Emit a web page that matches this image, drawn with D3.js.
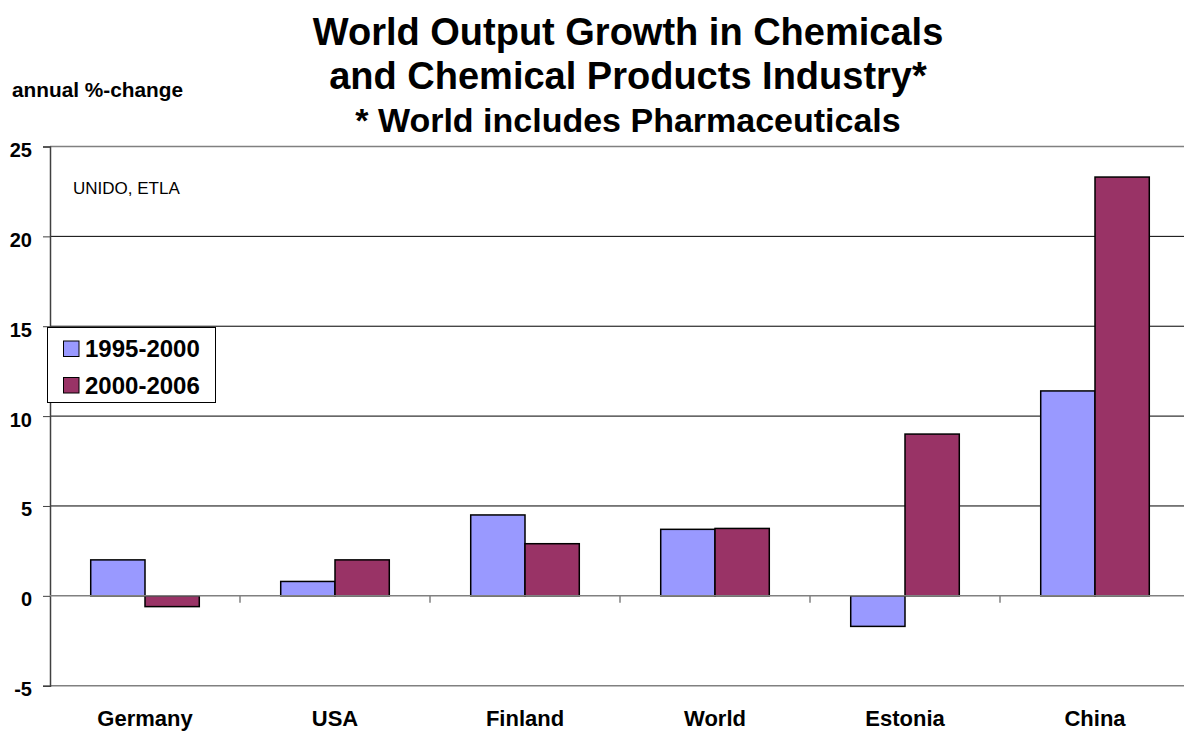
<!DOCTYPE html>
<html><head><meta charset="utf-8">
<script src="https://cdn.jsdelivr.net/npm/d3@7"></script>
<style>body{margin:0;background:#fff}svg{display:block;font-family:"Liberation Sans",Arial,sans-serif}</style>
</head><body><svg id="c" width="1184" height="731"></svg>
<script>
const categories = ["Germany","USA","Finland","World","Estonia","China"];
const seriesNames = ["1995-2000","2000-2006"];
const s1995_2000 = [2.0, 0.8, 4.5, 3.7, -1.7, 11.4];
const s2000_2006 = [-0.6, 2.0, 2.9, 3.75, 9.0, 23.3];
const yTicks = [-5,0,5,10,15,20,25];
const colors = ["#9999FF","#993366"];
const titleLines = ["World Output Growth in Chemicals","and Chemical Products Industry*","* World includes Pharmaceuticals"];

const FF = "'Liberation Sans',Arial,sans-serif";
const svg = d3.select("#c");
const L=50, R=1190, T=146.5, B=685.7;
const x = d3.scaleBand().domain(categories).range([L,R]).paddingInner(0).paddingOuter(0);
const y = d3.scaleLinear().domain([-5,25]).range([B,T]);
const gap = 0.75;
const groupW = x.bandwidth()/(1+gap);
const x1 = d3.scaleBand().domain(seriesNames).range([0,groupW]);

// gridlines
svg.append("g").selectAll("line").data(yTicks.filter(d=>d!==0&&d!==-5&&d!==25)).join("line")
  .attr("x1",L).attr("x2",R).attr("y1",d=>y(d)).attr("y2",d=>y(d)).attr("stroke","#000").attr("stroke-width",1);
svg.append("line").attr("x1",L).attr("x2",R).attr("y1",y(25)).attr("y2",y(25)).attr("stroke","#808080").attr("stroke-width",1.5);
svg.append("line").attr("x1",L).attr("x2",R).attr("y1",y(-5)).attr("y2",y(-5)).attr("stroke","#808080").attr("stroke-width",1.5);

// y axis
const ya = d3.axisLeft(y).tickValues(yTicks).tickSize(7).tickPadding(8).tickFormat(d=>String(d));
const gy = svg.append("g").attr("transform",`translate(${L},0)`).call(ya);
gy.select(".domain").attr("stroke","#404040").attr("stroke-width",1.5);
gy.selectAll(".tick line").attr("stroke","#404040");
gy.selectAll(".tick text").attr("font-size",20).attr("font-weight","bold").attr("fill","#000")
  .attr("font-family",FF).attr("x",-18).attr("dy","0.5em");

// bars
const data = [s1995_2000, s2000_2006];
categories.forEach((c,i)=>{
  const gx = x(c) + (x.bandwidth()-groupW)/2;
  seriesNames.forEach((s,j)=>{
    const v = data[j][i];
    svg.append("rect").attr("x",gx+x1(s)).attr("width",x1.bandwidth())
      .attr("y",y(Math.max(0,v))).attr("height",Math.abs(y(v)-y(0)))
      .attr("fill",colors[j]).attr("stroke","#000").attr("stroke-width",1.5);
  });
});

// zero axis
svg.append("line").attr("x1",L).attr("x2",R).attr("y1",y(0)).attr("y2",y(0)).attr("stroke","#808080").attr("stroke-width",1.5);
svg.append("g").selectAll("line").data(categories.slice(1)).join("line")
  .attr("x1",d=>x(d)).attr("x2",d=>x(d)).attr("y1",y(0)).attr("y2",y(0)+7).attr("stroke","#808080").attr("stroke-width",1.5);

// category labels
const gx = svg.append("g").attr("transform",`translate(0,${B})`).call(d3.axisBottom(x).tickSize(0).tickPadding(0));
gx.select(".domain").remove();
gx.selectAll(".tick text").attr("font-size",22).attr("font-weight","bold").attr("fill","#000")
  .attr("font-family",FF).attr("dy",0).attr("y",40);

// title
svg.append("g").selectAll("text").data(titleLines).join("text")
  .attr("x",628).attr("y",(d,i)=>[45,89,132][i]).attr("text-anchor","middle")
  .attr("font-size",(d,i)=>i<2?38:34).attr("font-weight","bold").text(d=>d);

svg.append("text").attr("x",12).attr("y",97).attr("font-size",20.8).attr("font-weight","bold").text("annual %-change");
svg.append("text").attr("x",73).attr("y",194).attr("font-size",17).text("UNIDO, ETLA");

// legend
const lg = svg.append("g");
lg.append("rect").attr("x",47.5).attr("y",327.5).attr("width",168).attr("height",75).attr("fill","#fff").attr("stroke","#000").attr("stroke-width",1);
seriesNames.forEach((s,j)=>{
  lg.append("rect").attr("x",63.5).attr("y",341+j*36.5).attr("width",15.5).attr("height",15.5).attr("fill",colors[j]).attr("stroke","#000").attr("stroke-width",1);
  lg.append("text").attr("x",85).attr("y",357+j*37).attr("font-size",24).attr("font-weight","bold").text(s);
});
</script></body></html>
